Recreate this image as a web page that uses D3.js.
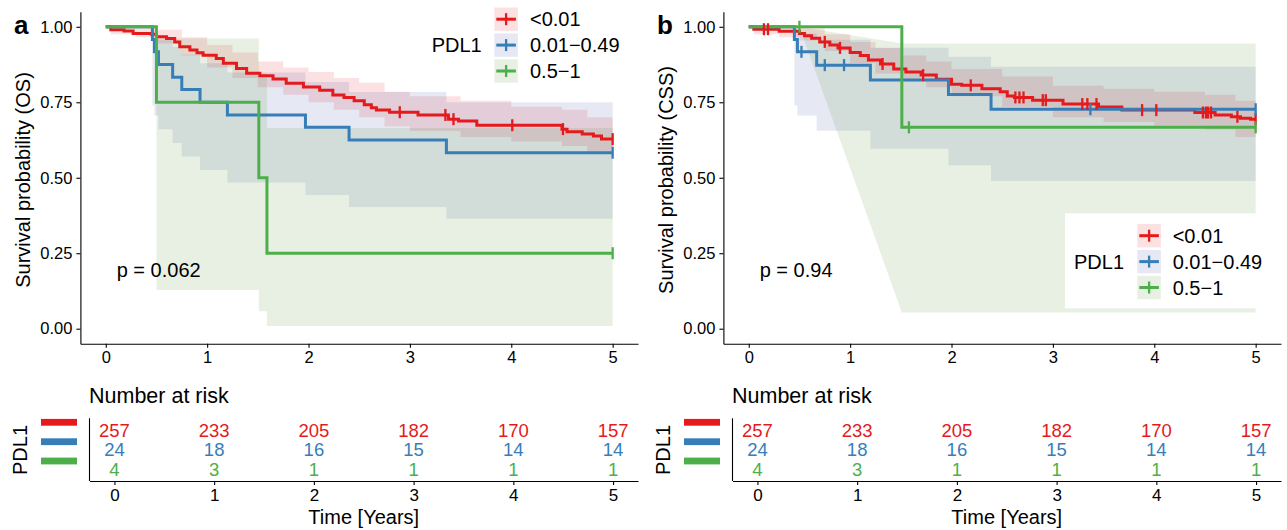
<!DOCTYPE html>
<html>
<head>
<meta charset="utf-8">
<script src="https://cdn.jsdelivr.net/npm/d3@7"></script>
<style>
  body { margin: 0; background: #fff; }
  svg text { font-family: "Liberation Sans", Arial, sans-serif; fill: #000; }
</style>
</head>
<body>
<svg id="chart" width="1287" height="530"></svg>
<script>
// ---- shared ----
var years = [0, 1, 2, 3, 4, 5];
var survTicks = [0, 0.25, 0.5, 0.75, 1];
var groups = ["<0.01", "0.01\u22120.49", "0.5\u22121"];
var lineColors = ["#E41A1C", "#377EB8", "#4DAF4A"];
var bandColors = ["#E41A1C", "#3F4EA3", "#4E8C2F"];

// ---- panel a : OS ----
var osRedT = [0, 0.05, 0.18, 0.27, 0.45, 0.5, 0.6, 0.68, 0.73, 0.83, 0.9, 0.96, 1.09, 1.16, 1.29, 1.39, 1.52, 1.65, 1.78, 1.95, 2.11, 2.24, 2.35, 2.45, 2.55, 2.62, 2.67, 2.8, 3.08, 3.38, 3.48, 3.66, 4.5, 4.55, 4.7, 4.81, 4.89, 5];
var osRedS = [1, 0.99, 0.986, 0.978, 0.975, 0.967, 0.961, 0.95, 0.934, 0.923, 0.914, 0.906, 0.895, 0.879, 0.862, 0.846, 0.838, 0.827, 0.813, 0.801, 0.79, 0.774, 0.766, 0.755, 0.742, 0.732, 0.724, 0.717, 0.708, 0.694, 0.688, 0.674, 0.661, 0.652, 0.645, 0.638, 0.628, 0.628];
var osRedCens = [2.9, 3.35, 3.43, 4.01, 4.51, 5];
var osRedBandT = [0, 0.05, 0.3, 0.5, 0.75, 1.0, 1.25, 1.5, 1.75, 2.0, 2.25, 2.5, 2.75, 3.0, 3.5, 4.0, 4.5, 4.75, 5];
var osRedLo = [1, 0.975, 0.965, 0.945, 0.905, 0.865, 0.83, 0.8, 0.775, 0.75, 0.725, 0.7, 0.67, 0.655, 0.635, 0.62, 0.605, 0.58, 0.57];
var osRedHi = [1, 1, 0.995, 0.99, 0.965, 0.94, 0.915, 0.885, 0.865, 0.85, 0.83, 0.815, 0.785, 0.77, 0.755, 0.735, 0.725, 0.7, 0.69];

var osBlueT = [0, 0.46, 0.48, 0.52, 0.66, 0.75, 0.93, 1.2, 1.97, 2.4, 3.36, 5];
var osBlueS = [1, 0.958, 0.917, 0.875, 0.833, 0.792, 0.75, 0.708, 0.667, 0.625, 0.583, 0.583];
var osBlueLo = [1, 0.739, 0.706, 0.661, 0.615, 0.57, 0.526, 0.484, 0.443, 0.403, 0.364, 0.364];
var osBlueHi = [1, 0.994, 0.978, 0.958, 0.934, 0.908, 0.879, 0.849, 0.817, 0.784, 0.75, 0.75];
var osBlueCens = [5];

var osGreenT = [0, 0.5, 1.51, 1.59, 5];
var osGreenS = [1, 0.75, 0.5, 0.25, 0.25];
var osGreenLo = [1, 0.128, 0.058, 0.009, 0.009];
var osGreenHi = [1, 0.961, 0.845, 0.665, 0.665];
var osGreenCens = [5];

var osRisk = [[257, 233, 205, 182, 170, 157], [24, 18, 16, 15, 14, 14], [4, 3, 1, 1, 1, 1]];

// ---- panel b : CSS ----
var cssRedT = [0, 0.05, 0.3, 0.5, 0.55, 0.62, 0.7, 0.8, 0.88, 1.0, 1.1, 1.18, 1.3, 1.43, 1.55, 1.7, 1.85, 2.0, 2.1, 2.3, 2.48, 2.55, 2.62, 2.8, 3.1, 3.45, 3.68, 4.4, 4.6, 4.76, 4.85, 4.95, 5];
var cssRedS = [1, 0.992, 0.985, 0.978, 0.97, 0.962, 0.95, 0.94, 0.93, 0.915, 0.905, 0.89, 0.877, 0.86, 0.85, 0.84, 0.826, 0.81, 0.806, 0.795, 0.785, 0.771, 0.766, 0.757, 0.744, 0.734, 0.724, 0.716, 0.708, 0.702, 0.697, 0.694, 0.694];
var cssRedCens = [0.15, 0.19, 0.75, 0.9, 1.32, 1.72, 2.19, 2.63, 2.67, 2.71, 2.9, 2.93, 3.29, 3.34, 3.43, 3.88, 4.02, 4.48, 4.51, 4.53, 4.56, 4.82, 5];
var cssRedBandT = [0, 0.05, 0.3, 0.5, 0.75, 1.0, 1.25, 1.5, 1.75, 2.0, 2.5, 3.0, 3.5, 4.0, 4.5, 4.8, 5];
var cssRedLo = [1, 0.975, 0.965, 0.955, 0.92, 0.88, 0.845, 0.82, 0.8, 0.77, 0.735, 0.7, 0.685, 0.672, 0.66, 0.635, 0.63];
var cssRedHi = [1, 1, 1, 0.995, 0.975, 0.95, 0.93, 0.905, 0.885, 0.86, 0.835, 0.805, 0.795, 0.785, 0.775, 0.755, 0.74];

var cssBlueT = [0, 0.45, 0.48, 0.67, 1.2, 1.97, 2.39, 5];
var cssBlueS = [1, 0.958, 0.917, 0.873, 0.824, 0.776, 0.727, 0.727];
var cssBlueLo = [1, 0.739, 0.706, 0.656, 0.596, 0.541, 0.489, 0.489];
var cssBlueHi = [1, 0.994, 0.978, 0.957, 0.931, 0.901, 0.868, 0.868];
var cssBlueCens = [0.52, 0.75, 0.94, 3.37, 5];

var cssGreenT = [0, 1.51, 5];
var cssGreenS = [1, 0.667, 0.667];
var cssGreenBandT = [0.5, 1.51, 5];
var cssGreenLo = [1, 0.054, 0.054];
var cssGreenHi = [1, 0.945, 0.945];
var cssGreenCens = [0.5, 1.58, 5];

var cssRisk = [[257, 233, 205, 182, 170, 157], [24, 18, 16, 15, 14, 14], [4, 3, 1, 1, 1, 1]];

function zipCurve(t, s) { return t.map(function(d, i) { return {t: d, s: s[i]}; }); }
function zipBand(t, lo, hi) { return t.map(function(d, i) { return {t: d, lo: lo[i], hi: hi[i]}; }); }
function stepAt(curve, time) {
  var v = curve[0].s;
  curve.forEach(function(p) { if (p.t <= time) v = p.s; });
  return v;
}

var panels = [
  {
    tag: "a", ylab: "Survival probability (OS)", pval: "p = 0.062", dx: 0,
    curves: [
      {line: zipCurve(osRedT, osRedS), band: zipBand(osRedBandT, osRedLo, osRedHi), cens: osRedCens, bandCurve: d3.curveStepAfter},
      {line: zipCurve(osBlueT, osBlueS), band: zipBand(osBlueT, osBlueLo, osBlueHi), cens: osBlueCens, bandCurve: d3.curveStepAfter},
      {line: zipCurve(osGreenT, osGreenS), band: zipBand(osGreenT, osGreenLo, osGreenHi), cens: osGreenCens, bandCurve: d3.curveStepAfter}
    ],
    risk: osRisk,
    legend: {bg: false, x: 494.3, y: 7.5, titleX: 431.7, labelX: 530}
  },
  {
    tag: "b", ylab: "Survival probability (CSS)", pval: "p = 0.94", dx: 643,
    curves: [
      {line: zipCurve(cssRedT, cssRedS), band: zipBand(cssRedBandT, cssRedLo, cssRedHi), cens: cssRedCens, bandCurve: d3.curveStepAfter},
      {line: zipCurve(cssBlueT, cssBlueS), band: zipBand(cssBlueT, cssBlueLo, cssBlueHi), cens: cssBlueCens, bandCurve: d3.curveStepAfter},
      {line: zipCurve(cssGreenT, cssGreenS), band: zipBand(cssGreenBandT, cssGreenLo, cssGreenHi), cens: cssGreenCens, bandCurve: d3.curveLinear}
    ],
    risk: cssRisk,
    legend: {bg: true, x: 1137.3, y: 224, titleX: 1074, labelX: 1172.7}
  }
];

var svg = d3.select("#chart");

panels.forEach(function(p) {
  var g = svg.append("g");
  var x = d3.scaleLinear().domain([-0.25, 5.25]).range([80.4 + p.dx, 638 + p.dx]);
  var y = d3.scaleLinear().domain([-0.05, 1.05]).range([343.8, 11.7]);

  // confidence bands
  p.curves.forEach(function(c, i) {
    var area = d3.area().curve(c.bandCurve)
      .x(function(d) { return x(d.t); })
      .y0(function(d) { return y(d.lo); })
      .y1(function(d) { return y(d.hi); });
    g.append("path").attr("d", area(c.band))
      .attr("fill", bandColors[i]).attr("fill-opacity", 0.13);
  });

  // survival steps
  p.curves.forEach(function(c, i) {
    var line = d3.line().curve(d3.curveStepAfter)
      .x(function(d) { return x(d.t); })
      .y(function(d) { return y(d.s); });
    g.append("path").attr("d", line(c.line))
      .attr("fill", "none").attr("stroke", lineColors[i]).attr("stroke-width", 3);
  });

  // censor marks
  p.curves.forEach(function(c, i) {
    g.selectAll(null).data(c.cens).enter().append("line")
      .attr("x1", function(d) { return x(d); })
      .attr("x2", function(d) { return x(d); })
      .attr("y1", function(d) { return y(stepAt(c.line, d)) - 6; })
      .attr("y2", function(d) { return y(stepAt(c.line, d)) + 6; })
      .attr("stroke", lineColors[i]).attr("stroke-width", 2.3);
  });

  // axes
  var ax = g.append("g").attr("transform", "translate(0,343.8)")
    .call(d3.axisBottom(x).tickValues(years).tickFormat(d3.format("d")).tickSize(4).tickSizeOuter(0).tickPadding(3));
  var ay = g.append("g").attr("transform", "translate(" + x.range()[0] + ",0)")
    .call(d3.axisLeft(y).tickValues(survTicks).tickFormat(d3.format(".2f")).tickSize(4).tickSizeOuter(0).tickPadding(4));
  [ax, ay].forEach(function(a) {
    a.selectAll("path, line").attr("stroke", "#000").attr("stroke-width", 1.1);
    a.selectAll("text").attr("font-size", 16.5).attr("font-family", "Liberation Sans, Arial, sans-serif").attr("fill", "#000");
  });

  g.append("text").attr("x", 14 + p.dx).attr("y", 34)
    .attr("font-size", 26).attr("font-weight", "bold").text(p.tag);

  g.append("text")
    .attr("transform", "translate(" + (29.5 + p.dx) + ",180) rotate(-90)")
    .attr("text-anchor", "middle").attr("font-size", 20).text(p.ylab);

  g.append("text").attr("x", x(0.108)).attr("y", 276.7)
    .attr("font-size", 20).text(p.pval);

  // legend
  var L = p.legend;
  if (L.bg) {
    g.append("rect").attr("x", 1065).attr("y", 213.3).attr("width", 191).attr("height", 95).attr("fill", "#fff");
  }
  g.append("text").attr("x", L.titleX).attr("y", L.y + 25.9 + 11.7 + 7.2)
    .attr("font-size", 20).text("PDL1");
  groups.forEach(function(name, i) {
    var ky = L.y + i * 25.9;
    g.append("rect").attr("x", L.x).attr("y", ky).attr("width", 23.6).attr("height", 23.4)
      .attr("fill", bandColors[i]).attr("fill-opacity", 0.13);
    g.append("line").attr("x1", L.x + 2).attr("x2", L.x + 21.6).attr("y1", ky + 11.7).attr("y2", ky + 11.7)
      .attr("stroke", lineColors[i]).attr("stroke-width", 3);
    g.append("line").attr("x1", L.x + 11.8).attr("x2", L.x + 11.8).attr("y1", ky + 5.7).attr("y2", ky + 17.7)
      .attr("stroke", lineColors[i]).attr("stroke-width", 2.3);
    g.append("text").attr("x", L.labelX).attr("y", ky + 11.7 + 7.2)
      .attr("font-size", 20).text(name);
  });

  // ---- risk table ----
  var rx = d3.scaleLinear().domain([-0.25, 5.25]).range([89.5 + p.dx, 638 + p.dx]);
  var rowBase = [436.7, 456.4, 476];
  var barMid = [422.3, 441.7, 461];

  g.append("text").attr("x", 89 + p.dx).attr("y", 403.3).attr("font-size", 21.5).text("Number at risk");

  p.risk.forEach(function(row, i) {
    g.selectAll(null).data(row).enter().append("text")
      .attr("x", function(d, j) { return rx(years[j]); })
      .attr("y", rowBase[i])
      .attr("text-anchor", "middle").attr("font-size", 18.5)
      .style("fill", lineColors[i])
      .text(function(d) { return d; });
    g.append("rect").attr("x", 41 + p.dx).attr("y", barMid[i] - 3.4).attr("width", 36).attr("height", 6.8)
      .attr("fill", lineColors[i]);
  });

  g.append("line").attr("x1", rx.range()[0]).attr("x2", rx.range()[0]).attr("y1", 418.3).attr("y2", 481)
    .attr("stroke", "#000").attr("stroke-width", 1.1);
  var rax = g.append("g").attr("transform", "translate(0,481)")
    .call(d3.axisBottom(rx).tickValues(years).tickFormat(d3.format("d")).tickSize(4).tickSizeOuter(0).tickPadding(4));
  rax.selectAll("path, line").attr("stroke", "#000").attr("stroke-width", 1.1);
  rax.selectAll("text").attr("font-size", 17).attr("font-family", "Liberation Sans, Arial, sans-serif").attr("fill", "#000");

  g.append("text").attr("x", (rx.range()[0] + rx.range()[1]) / 2).attr("y", 523.5)
    .attr("text-anchor", "middle").attr("font-size", 20).text("Time [Years]");

  g.append("text")
    .attr("transform", "translate(" + (26.5 + p.dx) + ",450) rotate(-90)")
    .attr("text-anchor", "middle").attr("font-size", 20).text("PDL1");
});
</script>
</body>
</html>
